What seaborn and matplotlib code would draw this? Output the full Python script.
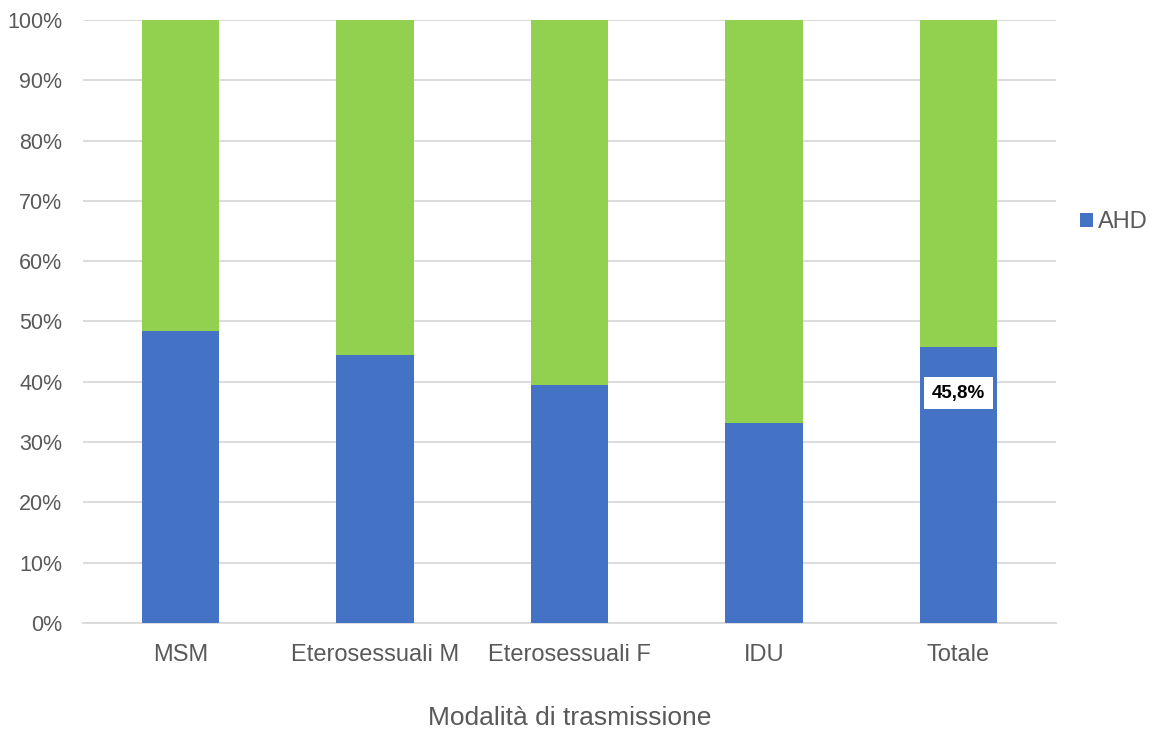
import matplotlib
matplotlib.use("Agg")
import matplotlib.pyplot as plt
import seaborn as sns
import pandas as pd
from matplotlib.ticker import PercentFormatter

categories = ["MSM", "Eterosessuali M", "Eterosessuali F", "IDU", "Totale"]
ahd = [48.5, 44.4, 39.5, 33.2, 45.8]
non_ahd = [100 - v for v in ahd]

sns.set_theme(style="white")
plt.rcParams["font.family"] = ["Liberation Sans", "DejaVu Sans"]

BLUE = "#4472C4"
GREEN = "#92D050"
TEXT = "#595959"
GRID = "#D9D9D9"

df = pd.DataFrame({"cat": categories, "ahd": ahd, "non_ahd": non_ahd})
df["total"] = df["ahd"] + df["non_ahd"]

fig = plt.figure(figsize=(11.55, 7.3), dpi=100)
ax = fig.add_axes([0.072, 0.1466, 0.842, 0.826])

# stacked: full column in green, AHD share in blue on top of it
sns.barplot(data=df, x="cat", y="total", color=GREEN, width=0.4,
            saturation=1, ax=ax, zorder=2, linewidth=0)
sns.barplot(data=df, x="cat", y="ahd", color=BLUE, width=0.4,
            saturation=1, ax=ax, zorder=3, linewidth=0, label="AHD")

ax.set_ylim(0, 100)
ax.set_xlim(-0.5, len(categories) - 0.5)
ax.set_yticks(range(0, 101, 10))
ax.yaxis.set_major_formatter(PercentFormatter(decimals=0))
ax.grid(axis="y", color=GRID, linewidth=1.3, zorder=0)
ax.set_axisbelow(True)
for side in ["top", "right", "left"]:
    ax.spines[side].set_visible(False)
ax.spines["bottom"].set_color(GRID)
ax.spines["bottom"].set_linewidth(1.3)
ax.tick_params(axis="y", length=0, labelsize=15.5, labelcolor=TEXT, pad=15)
ax.tick_params(axis="x", length=0, labelsize=17, labelcolor=TEXT, pad=15)
ax.set_ylabel("")
ax.set_xlabel("Modalità di trasmissione", fontsize=19, color=TEXT, labelpad=29)

# value label on the total bar
i = categories.index("Totale")
ax.text(i, ahd[i] - 7.7, f"{ahd[i]:.1f}%".replace(".", ","), ha="center", va="center",
        fontsize=13.5, fontweight="bold", color="black", zorder=5,
        bbox=dict(boxstyle="square,pad=0.4", facecolor="white", edgecolor="none"))

handles, labels = ax.get_legend_handles_labels()
leg = ax.legend(handles[-1:], ["AHD"], loc="center left", bbox_to_anchor=(1.003, 0.665),
                frameon=False, fontsize=17, handlelength=0.55, handleheight=0.55,
                handletextpad=0.2, labelcolor=TEXT)

fig.savefig("out.png", dpi=100)
